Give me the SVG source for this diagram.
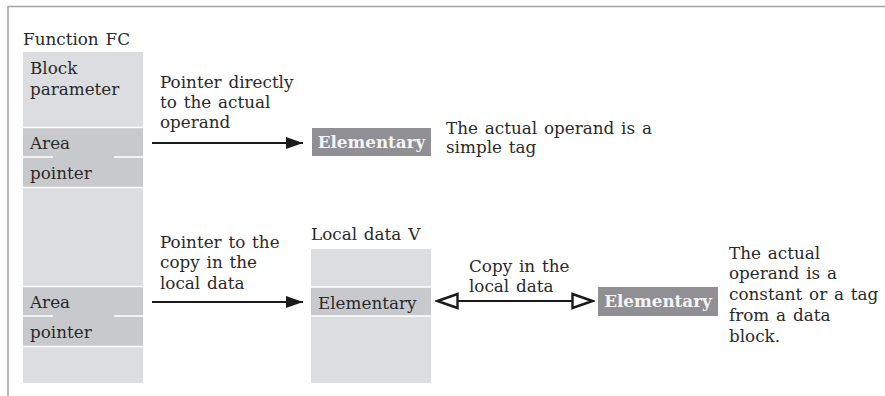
<svg xmlns="http://www.w3.org/2000/svg" width="885" height="396" viewBox="0 0 885 396">
<defs>
<marker id="fill" markerWidth="18" markerHeight="14" refX="17" refY="7" orient="auto" markerUnits="userSpaceOnUse">
<path d="M0,1 L17,7 L0,13 Z" fill="#1a1a1a"/>
</marker>
<marker id="open" markerWidth="24" markerHeight="18" refX="22" refY="9" orient="auto-start-reverse" markerUnits="userSpaceOnUse">
<path d="M1.5,2 L21.5,9 L1.5,16 Z" fill="#fff" stroke="#1a1a1a" stroke-width="2.4"/>
</marker>
</defs>
<style>
text{font-family:"DejaVu Serif","Liberation Serif",serif;font-size:16.8px;word-spacing:1.5px;fill:#2a2a2a}
.light{fill:#dcdde0}
.dark{fill:#c8c9cc}
.sep{stroke:#fff;stroke-width:1.5}
.box{fill:#8f8f94}
.bold{font-weight:bold;fill:#f4f4f4}
.conn{stroke:#1a1a1a;stroke-width:2;fill:none}
</style>
<path d="M8,396 L8,6.5 L885,6.5" fill="none" stroke="#a3a3a8" stroke-width="1.5"/>

<g id="function-fc">
<text x="23" y="45">Function FC</text>
<rect class="light" x="23" y="52" width="120" height="331"/>
<rect class="dark" x="23" y="128" width="120" height="59"/>
<rect class="dark" x="23" y="287" width="120" height="59"/>
<line class="sep" x1="23" y1="127.5" x2="143" y2="127.5"/>
<line class="sep" x1="23" y1="157" x2="53" y2="157"/>
<line class="sep" x1="114" y1="157" x2="143" y2="157"/>
<line class="sep" x1="23" y1="187.5" x2="143" y2="187.5"/>
<line class="sep" x1="23" y1="286.5" x2="143" y2="286.5"/>
<line class="sep" x1="23" y1="316" x2="53" y2="316"/>
<line class="sep" x1="114" y1="316" x2="143" y2="316"/>
<line class="sep" x1="23" y1="346.5" x2="143" y2="346.5"/>
<text x="30" y="74">Block</text>
<text x="30" y="95">parameter</text>
<text x="30" y="149">Area</text>
<text x="30" y="179">pointer</text>
<text x="30" y="308">Area</text>
<text x="30" y="338">pointer</text>
</g>

<g id="elementary-top">
<rect class="box" x="312" y="128" width="119" height="28"/>
<text class="bold" x="371.5" y="148" text-anchor="middle">Elementary</text>
</g>

<g id="local-data">
<text x="311" y="240">Local data V</text>
<rect class="light" x="311" y="249" width="120" height="134"/>
<rect class="dark" x="311" y="287" width="120" height="29"/>
<line class="sep" x1="311" y1="287" x2="431" y2="287"/>
<line class="sep" x1="311" y1="316" x2="431" y2="316"/>
<text x="318" y="309">Elementary</text>
</g>

<g id="elementary-right">
<rect class="box" x="598" y="287" width="120" height="29"/>
<text class="bold" x="658" y="307" text-anchor="middle">Elementary</text>
</g>

<g id="connectors">
<line class="conn" x1="152" y1="143" x2="303" y2="143" marker-end="url(#fill)"/>
<line class="conn" x1="152" y1="302" x2="303" y2="302" marker-end="url(#fill)"/>
<line class="conn" x1="437" y1="301" x2="593" y2="301" marker-start="url(#open)" marker-end="url(#open)"/>
</g>

<g id="labels">
<text x="160" y="88">Pointer directly</text>
<text x="160" y="108">to the actual</text>
<text x="160" y="128">operand</text>
<text x="446" y="134">The actual operand is a</text>
<text x="446" y="153">simple tag</text>
<text x="160" y="248">Pointer to the</text>
<text x="160" y="268">copy in the</text>
<text x="160" y="289">local data</text>
<text x="469" y="272">Copy in the</text>
<text x="469" y="292">local data</text>
<text x="729" y="259">The actual</text>
<text x="729" y="279">operand is a</text>
<text x="729" y="300">constant or a tag</text>
<text x="729" y="321">from a data</text>
<text x="729" y="342">block.</text>
</g>
</svg>
